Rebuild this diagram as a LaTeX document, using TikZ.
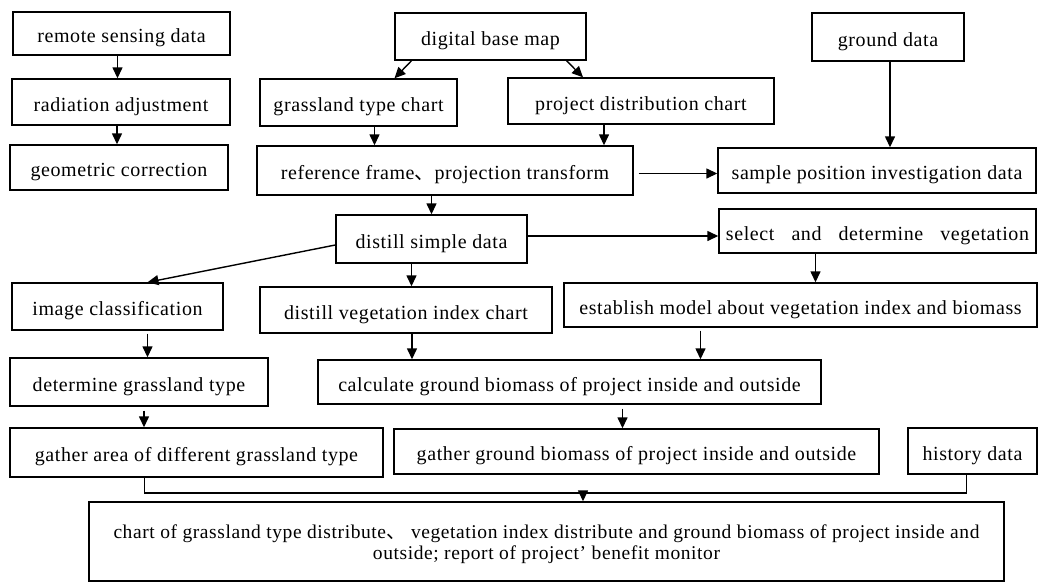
\documentclass[tikz,border=0pt]{standalone}
\usepackage{fontspec}
\setmainfont{Liberation Serif}[LetterSpace=3]
\newfontfamily\cjk{Noto Sans CJK SC}
\usetikzlibrary{arrows.meta}

\begin{document}
\begin{tikzpicture}[x=1pt, y=-1pt,
    box/.style={draw, line width=1.4pt, inner sep=0pt, text height=22pt, text depth=4pt, font=\fontsize{20}{24}\selectfont},
    arr/.style={line width=1.4pt, -{Triangle[length=11pt, width=10pt]}},
    conn/.style={line width=1.4pt},
]
\useasboundingbox (0,0) rectangle (1039,584);

% Left column: image preprocessing
\node[box, minimum width=217pt, minimum height=43pt] (rsd) at (121.5,33.5) {remote sensing data};
\node[box, minimum width=218pt, minimum height=46pt] (rad) at (121,102) {radiation adjustment};
\node[box, minimum width=218pt, minimum height=45pt] (geo) at (119,167.5) {geometric correction};

% Top row: base map and ground data
\node[box, minimum width=191pt, minimum height=47pt] (dbm) at (490.5,36.5) {digital base map};
\node[box, minimum width=152pt, minimum height=48pt] (gd) at (888,37) {ground data};
\node[box, minimum width=197pt, minimum height=47pt] (gtc) at (358.5,102.5) {grassland type chart};
\node[box, minimum width=266pt, minimum height=46pt] (pdc) at (641,101) {project distribution chart};

% Projection and samples
\node[box, minimum width=376pt, minimum height=49pt] (ref) at (445,170.5) {reference frame{\cjk 、}projection transform};
\node[box, minimum width=318pt, minimum height=45pt] (spd) at (877,170.5) {sample position investigation data};
\node[box, minimum width=191pt, minimum height=48pt] (dsd) at (431.5,239) {distill simple data};
\node[box, minimum width=317pt, minimum height=44pt] (sdv) at (877.5,231) {select\hspace{17pt}and\hspace{17pt}determine\hspace{17pt}vegetation};

% Classification, index and model
\node[box, minimum width=211pt, minimum height=47pt] (ic) at (117.5,306.5) {image classification};
\node[box, minimum width=292pt, minimum height=46pt] (dvi) at (406,310) {distill vegetation index chart};
\node[box, minimum width=473pt, minimum height=44pt] (emv) at (800.5,305) {establish model about vegetation index and biomass};
\node[box, minimum width=258pt, minimum height=48pt] (dgt) at (139,382) {determine grassland type};
\node[box, minimum width=503pt, minimum height=44pt] (cgb) at (569.5,382) {calculate ground biomass of project inside and outside};

% Gathering
\node[box, minimum width=373pt, minimum height=49pt] (gag) at (196.5,452.5) {gather area of different grassland type};
\node[box, minimum width=485pt, minimum height=45pt] (ggb) at (636.5,451.5) {gather ground biomass of project inside and outside};
\node[box, minimum width=129pt, minimum height=46pt] (hd) at (972.5,451) {history data};

% Result
\node[draw, line width=1.4pt, minimum width=915pt, minimum height=79pt, align=center, font=\fontsize{19.5}{21}\selectfont] (fin) at (546.5,541.5)
    {\rule{0pt}{20pt}chart of grassland type distribute{\cjk 、} vegetation index distribute and ground biomass of project inside and\\outside; report of project’ benefit monitor};

% Arrows
\draw[arr] ([xshift=-4]rsd.south) -- ([xshift=-4]rsd.south |- rad.north);
\draw[arr] ([xshift=-4]rad.south) -- ([xshift=-4]rad.south |- geo.north);
\draw[arr] ([xshift=-79]dbm.south) -- ([xshift=36]gtc.north);
\draw[arr] ([xshift=76]dbm.south) -- ([xshift=-58]pdc.north);
\draw[arr] ([xshift=16]gtc.south) -- ([xshift=16]gtc.south |- ref.north);
\draw[arr] ([xshift=-37]pdc.south) -- ([xshift=-37]pdc.south |- ref.north);
\draw[arr] ([xshift=5, yshift=-3]ref.east) -- ([yshift=-3]ref.east -| spd.west);
\draw[arr] ([xshift=2]gd.south) -- ([xshift=2]gd.south |- spd.north);
\draw[arr] (ref.south -| dsd.north) -- (dsd.north);
\draw[arr] ([yshift=3]dsd.east) -- ([yshift=3]dsd.east -| sdv.west);
\draw[arr] ([yshift=-6]dsd.west) -- ([xshift=30]ic.north);
\draw[arr] ([xshift=-20]dsd.south) -- ([xshift=-20]dsd.south |- dvi.north);
\draw[arr] ([xshift=-62]sdv.south) -- ([xshift=-62]sdv.south |- emv.north);
\draw[arr] ([xshift=30, yshift=-3]ic.south) -- ([xshift=30]ic.south |- dgt.north);
\draw[arr] ([xshift=6]dvi.south) -- ([xshift=6]dvi.south |- cgb.north);
\draw[arr] ([xshift=-100, yshift=-3]emv.south) -- ([xshift=-100]emv.south |- cgb.north);
\draw[arr] ([xshift=5, yshift=-4]dgt.south) -- ([xshift=5]dgt.south |- gag.north);
\draw[arr] ([xshift=53, yshift=-4]cgb.south) -- ([xshift=53]cgb.south |- ggb.north);

% Merge into result
\coordinate (mrg) at (583,493);
\draw[conn] ([xshift=-52]gag.south) |- (mrg) -| ([xshift=-6]hd.south);
\draw[arr] (mrg) -- (mrg |- fin.north);

\end{tikzpicture}
\end{document}
